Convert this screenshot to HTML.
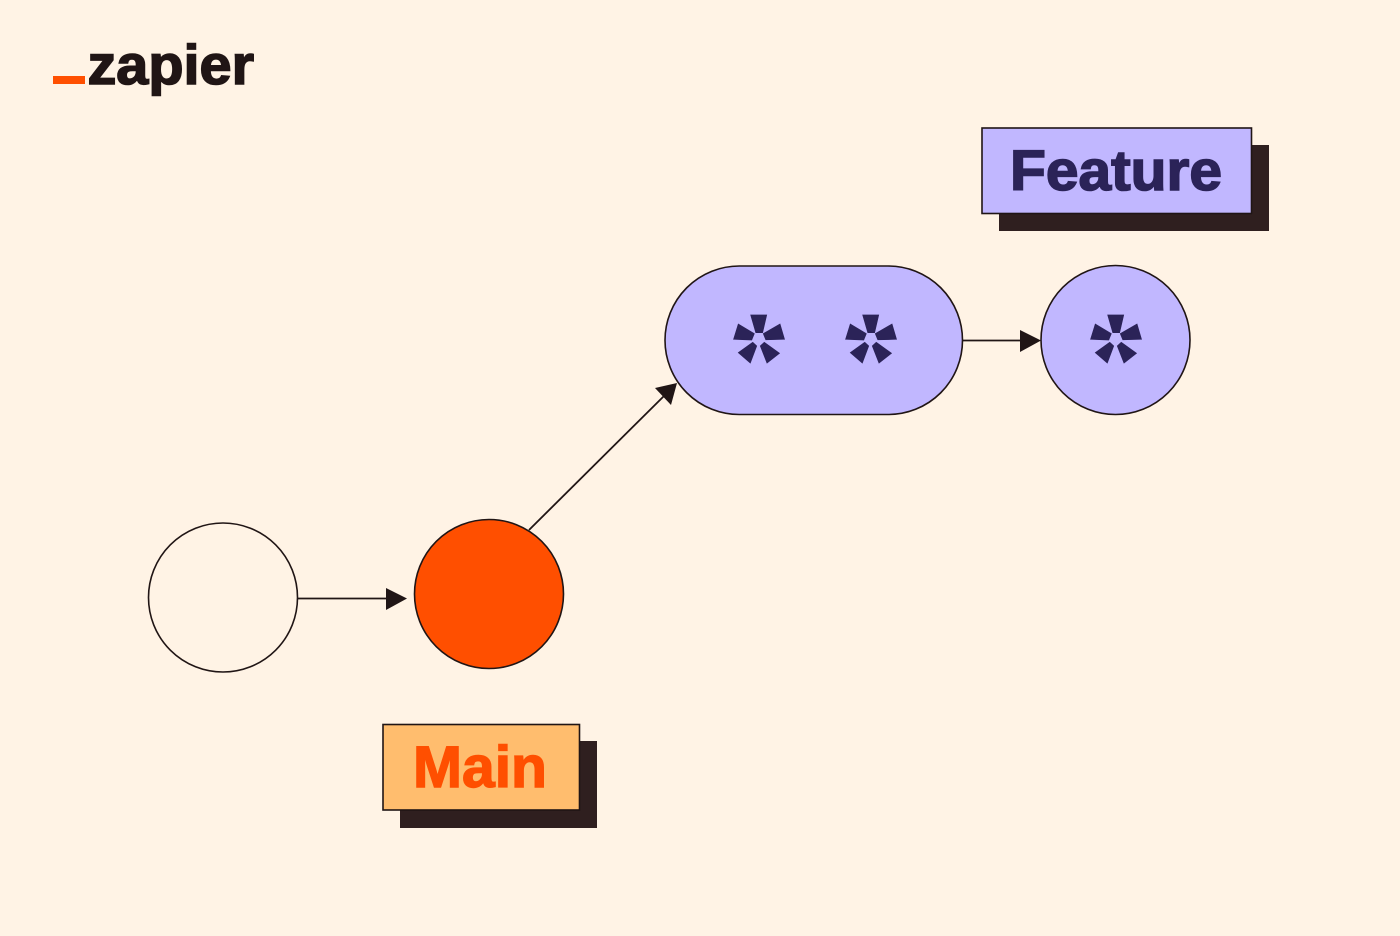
<!DOCTYPE html>
<html lang="en">
<head>
<meta charset="utf-8">
<title>Zapier branching diagram</title>
<style>
html,body{margin:0;padding:0;background:#fff3e5;width:1400px;height:936px;overflow:hidden}
svg{display:block}
text{font-family:"Liberation Sans",Arial,sans-serif;font-weight:700}
</style>
</head>
<body>
<svg width="1400" height="936" viewBox="0 0 1400 936" xmlns="http://www.w3.org/2000/svg">
<defs>
<g id="star" fill="#2b2358" stroke="#2b2358" stroke-width="0.7" stroke-linejoin="miter">
<polygon points="30.7,15 46.7,15 42.6,32.7 35.8,32.7"/>
<polygon points="18.3,24 34.3,33.6 31.7,40 13.6,39.3"/>
<polygon points="60,24 64.5,39.3 45.8,39.8 43.3,33.6"/>
<polygon points="32.7,42.3 36.7,46 30.3,63 18.3,52.7"/>
<polygon points="44.3,42.3 40.3,46 47,63 59.5,53.3"/>
</g>
</defs>
<rect width="1400" height="936" fill="#fff3e5"/>

<!-- logo -->
<rect x="53" y="76" width="32" height="8" fill="#ff4f00"/>
<text x="87.500" y="84" font-size="56" textLength="166.500" lengthAdjust="spacingAndGlyphs" fill="#201515" stroke="#201515" stroke-width="1.6">zapier</text>

<!-- connectors -->
<line x1="298" y1="598.5" x2="390" y2="598.5" stroke="#201515" stroke-width="1.8"/>
<polygon points="386,588 407,598.5 386,610" fill="#201515"/>
<line x1="529" y1="530" x2="666" y2="394" stroke="#201515" stroke-width="1.8"/>
<polygon points="655,388 677,383 671,405" fill="#201515"/>
<line x1="962" y1="340.5" x2="1024" y2="340.5" stroke="#201515" stroke-width="1.8"/>
<polygon points="1020,330 1041,340.5 1020,352" fill="#201515"/>

<!-- nodes -->
<circle cx="223" cy="597.5" r="74.5" fill="#fff3e5" stroke="#201515" stroke-width="1.6"/>
<circle cx="489" cy="594" r="74.5" fill="#ff4f00" stroke="#201515" stroke-width="1.6"/>
<rect x="665" y="266" width="297.500" height="148.500" rx="74.250" fill="#c1b7ff" stroke="#201515" stroke-width="1.6"/>
<circle cx="1115.500" cy="340" r="74.500" fill="#c1b7ff" stroke="#201515" stroke-width="1.6"/>
<use href="#star" x="720" y="300"/>
<use href="#star" x="832" y="300"/>
<use href="#star" x="1077" y="300"/>

<!-- Feature label -->
<rect x="999" y="145" width="270" height="86" fill="#2f1f1f"/>
<rect x="982" y="128" width="269.500" height="85.500" fill="#c1b7ff" stroke="#201515" stroke-width="1.6"/>
<text x="1010" y="190" font-size="57" textLength="212" lengthAdjust="spacingAndGlyphs" fill="#2b2358" stroke="#2b2358" stroke-width="1.6">Feature</text>

<!-- Main label -->
<rect x="400" y="741" width="197" height="87" fill="#2f1f1f"/>
<rect x="383" y="724.500" width="196.500" height="85.500" fill="#ffbd6e" stroke="#201515" stroke-width="1.6"/>
<text x="413" y="787" font-size="58" textLength="134" lengthAdjust="spacingAndGlyphs" fill="#ff4f00" stroke="#ff4f00" stroke-width="1.4">Main</text>
</svg>
</body>
</html>
